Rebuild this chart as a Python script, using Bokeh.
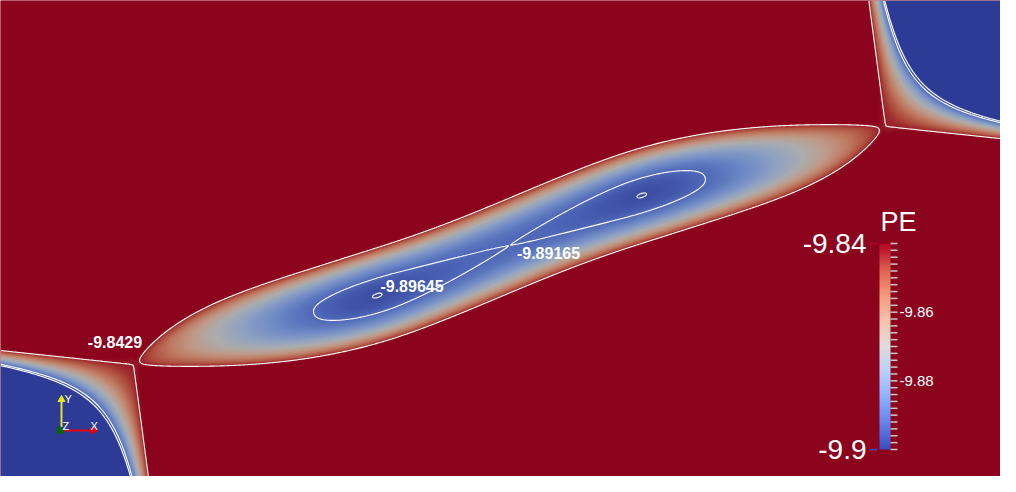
import numpy as np
import contourpy
from bokeh.plotting import figure
from bokeh.models import LinearColorMapper
from bokeh.embed import file_html
from bokeh.resources import INLINE
from bokeh.core.properties import value

# ---------------- values ----------------
# x = pixel column, y = pixel row counted from the bottom of the 1016x492 view
contour_levels = [-9.89645, -9.89165, -9.8429]
contour_label_text = ["-9.89645", "-9.89165", "-9.8429"]
contour_label_x = [411.5, 548.0, 114.5]
contour_label_y = [207.0, 240.0, 150.5]

minimum_x = [377, 641]          # the two minima of the central valley
minimum_y = [197, 297]
minimum_pe = -9.89648
barrier_pe = -9.89165           # saddle between the two minima
saddle_pe = -9.8429             # saddles joining the valley to the corner basins
saddle_x = [133, 885]
saddle_y = [128, 366]
ridge_h_x = [0, 1018]           # where the ridge lines leave each saddle
ridge_h_y = [142, 352]
ridge_v_x = [150, 868]
ridge_v_y = [0, 494]
valley_half_width = 44.0
lobe_reach = 207.0              # outer tip of each lobe of the -9.89165 figure-eight

cbar_low = -9.9
cbar_high = -9.84
cbar_mid_labels = [-9.88, -9.86]
cbar_step = 0.002
cbar_title = "PE"

# ---------------- shape constants of the landscape model ----------------
FLAT = 13000.0     # flatness of the valley floor
EXPONENT = 2.4     # transverse wall profile
TAPER = 400.0      # valley end taper
BEND_END = 395.0   # where the valley's sideways bend dies out
END_RISE = 2.6e-7  # extra rise of the floor towards the end saddles
WALL = 2.7e-5      # steepness of the corner basins
RIDGE = 3.0e-4     # rise across the ridges
LIGHT = 0.78       # shading of the lit surface

# Cool-to-warm colour map
cw_pos = [0, .125, .25, .375, .5, .625, .75, .875, 1]
cw_r = [59, 98, 141, 184, 221, 245, 244, 222, 180]
cw_g = [76, 130, 176, 208, 221, 196, 154, 96, 4]
cw_b = [192, 234, 254, 249, 221, 173, 123, 77, 38]


def make_palette(scale):
    t = np.linspace(0, 1, 256)
    r = np.interp(t, cw_pos, cw_r) * scale
    g = np.interp(t, cw_pos, cw_g) * scale
    b = np.interp(t, cw_pos, cw_b) * scale
    return ["#%02x%02x%02x" % (int(round(a)), int(round(bb)), int(round(c)))
            for a, bb, c in zip(r, g, b)]


bar_palette = make_palette(1.0)
surf_palette = make_palette(LIGHT)

# ---------------- view ----------------
VX0, VX1, VY0, VY1 = 0, 1000, 16, 492

# ---------------- field ----------------
xs = np.arange(VX0, VX1) + 0.5
ys = np.arange(VY0, VY1) + 0.5
X, Y = np.meshgrid(xs, ys)

cx = 0.5 * (minimum_x[0] + minimum_x[1])
cy = 0.5 * (minimum_y[0] + minimum_y[1])
ang = np.arctan2(saddle_y[1] - saddle_y[0], saddle_x[1] - saddle_x[0])
ca, sa = np.cos(ang), np.sin(ang)
U = (X - cx) * ca + (Y - cy) * sa
V = -(X - cx) * sa + (Y - cy) * ca
wu = (minimum_x[1] - cx) * ca + (minimum_y[1] - cy) * sa
wv = -(minimum_x[1] - cx) * sa + (minimum_y[1] - cy) * ca

Wq = U ** 2 - wu ** 2
amp = (barrier_pe - minimum_pe) / (np.sqrt(1 + (wu ** 2 / FLAT) ** 2) - 1)
flat_out = FLAT * (lobe_reach ** 2 - wu ** 2) / wu ** 2
F = np.where(Wq < 0, FLAT, flat_out)
P = amp * (np.sqrt(1 + (Wq / F) ** 2) - 1) + END_RISE * np.maximum(np.abs(U) - lobe_reach, 0) ** 2
centre = wv * np.sin(0.5 * np.pi * U / wu) * np.clip(1 - (U / BEND_END) ** 8, 0, 1)
taper = np.sqrt(np.clip(1 - (U / TAPER) ** 6, 0.01, 1))
K = saddle_pe - barrier_pe
Vc = minimum_pe + P + K * np.abs((V - centre) / (valley_half_width * taper)) ** EXPONENT


def corner(i):
    sx, sy = saddle_x[i], saddle_y[i]
    eh = np.array([ridge_h_x[i] - sx, ridge_h_y[i] - sy], float)
    ev = np.array([ridge_v_x[i] - sx, ridge_v_y[i] - sy], float)
    eh /= np.hypot(*eh)
    ev /= np.hypot(*ev)
    nh = np.array([-eh[1], eh[0]])
    if nh @ ev < 0:
        nh = -nh
    nv = np.array([-ev[1], ev[0]])
    if nv @ eh < 0:
        nv = -nv
    d1 = nh[0] * (X - sx) + nh[1] * (Y - sy)
    d2 = nv[0] * (X - sx) + nv[1] * (Y - sy)
    inside = (d1 > 0) & (d2 > 0)
    outside = saddle_pe + WALL * np.abs(d1 * d2) + RIDGE * (np.maximum(-d1, 0) + np.maximum(-d2, 0))
    return np.where(inside, saddle_pe - WALL * d1 * d2, outside)


Z = np.minimum(Vc, np.minimum(corner(0), corner(1)))
Zimg = np.clip(Z, -9.95, -9.8).astype(np.float32)

# ---------------- figure ----------------
p = figure(width=VX1 - VX0, height=VY1 - VY0, x_range=(VX0, VX1), y_range=(VY0, VY1),
           output_backend="svg", toolbar_location=None, min_border=0,
           x_axis_location=None, y_axis_location=None)
p.grid.visible = False
p.outline_line_color = None
p.background_fill_color = surf_palette[-1]
p.border_fill_color = surf_palette[-1]

surf_mapper = LinearColorMapper(palette=surf_palette, low=cbar_low, high=cbar_high,
                                low_color=surf_palette[0], high_color=surf_palette[-1])
p.image(image=[Zimg], x=VX0, y=VY0, dw=VX1 - VX0, dh=VY1 - VY0, color_mapper=surf_mapper)

gen = contourpy.contour_generator(xs, ys, Z)
lx, ly = [], []
for lev in contour_levels:
    for seg in gen.lines(lev):
        lx.append(seg[:, 0])
        ly.append(seg[:, 1])
p.multi_line(lx, ly, line_color="white", line_width=1.1)

p.text(x=contour_label_x, y=contour_label_y, text=contour_label_text,
       text_font=value("Liberation Sans"), text_font_style="bold",
       text_font_size="16px", text_color="white",
       text_align="center", text_baseline="middle")

# ---------------- colour bar ----------------
bar_x0, bar_x1, bar_y0, bar_y1 = 879, 890, 43, 249


def cb_y(v):
    return bar_y0 + (np.asarray(v) - cbar_low) / (cbar_high - cbar_low) * (bar_y1 - bar_y0)


bar_mapper = LinearColorMapper(palette=bar_palette, low=cbar_low, high=cbar_high)
grad = np.linspace(cbar_low, cbar_high, 256).reshape(-1, 1)
p.image(image=[grad], x=bar_x0, y=bar_y0, dw=bar_x1 - bar_x0, dh=bar_y1 - bar_y0,
        color_mapper=bar_mapper)
ticks = np.round(np.arange(cbar_low, cbar_high + 1e-9, cbar_step), 3)
p.segment(x0=bar_x1, y0=cb_y(ticks), x1=bar_x1 + 7, y1=cb_y(ticks),
          line_color="#c8c8c8", line_width=1.5)
p.segment(x0=[869, 869], y0=[bar_y1, bar_y0], x1=[877, 877], y1=[bar_y1, bar_y0],
          line_color=["#b00426", "#3b4cc0"], line_width=1.5)
p.text(x=[bar_x1 + 9] * len(cbar_mid_labels), y=cb_y(cbar_mid_labels),
       text=["%g" % v for v in cbar_mid_labels],
       text_font=value("Liberation Sans"), text_font_size="15px", text_color="white",
       text_align="left", text_baseline="middle")
p.text(x=[866, 866], y=cb_y([cbar_high, cbar_low]),
       text=["%g" % cbar_high, "%g" % cbar_low],
       text_font=value("Liberation Sans"), text_font_size="28px", text_color="white",
       text_align="right", text_baseline="middle")
p.text(x=[880], y=[271], text=[cbar_title],
       text_font=value("Liberation Sans"), text_font_size="27px", text_color="white",
       text_align="left", text_baseline="middle")

# ---------------- orientation triad ----------------
ox, oy = 61, 62
p.segment(x0=[ox, ox + 2], y0=[oy, oy], x1=[ox, ox + 30], y1=[oy + 30, oy],
          line_color=["#e6e61e", "#e60000"], line_width=2)
p.scatter(x=[ox, ox + 32], y=[oy + 31, oy], marker="triangle", size=7,
          angle=[0, -np.pi / 2], color=["#e6e61e", "#e60000"])
p.scatter(x=[ox - 1], y=[oy], marker="circle", size=7, color="#0a640a")
p.text(x=[ox + 3, ox + 29, ox + 1], y=[oy + 32, oy + 5, oy + 5], text=["Y", "X", "Z"],
       text_font=value("Liberation Sans"), text_font_size="11px", text_color="white",
       text_align="left", text_baseline="middle")

open("out.html", "w").write(file_html(p, INLINE))
